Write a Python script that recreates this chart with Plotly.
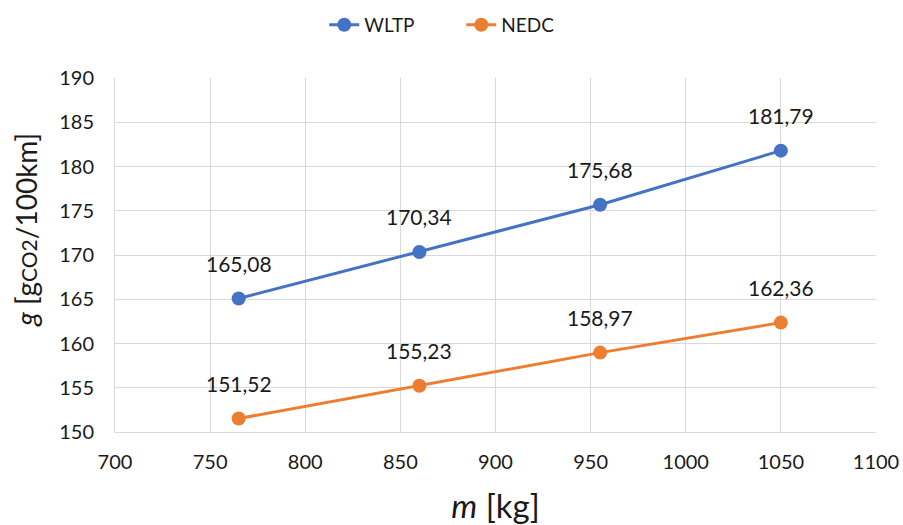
import plotly.graph_objects as go

mass = [765, 860, 955, 1050]
wltp = [165.08, 170.34, 175.68, 181.79]
nedc = [151.52, 155.23, 158.97, 162.36]
x_ticks = [700, 750, 800, 850, 900, 950, 1000, 1050, 1100]
y_ticks = [150, 155, 160, 165, 170, 175, 180, 185, 190]

BLUE = "#4472C4"
ORANGE = "#ED7D31"
FONT = "Lato, 'Open Sans', sans-serif"

def fmt(v):
    return f"{v:.2f}".replace(".", ",")

fig = go.Figure()
fig.add_trace(go.Scatter(x=mass, y=wltp, mode="lines+markers", name="WLTP",
                         line=dict(color=BLUE, width=3), marker=dict(size=14, color=BLUE)))
fig.add_trace(go.Scatter(x=mass, y=nedc, mode="lines+markers", name="NEDC",
                         line=dict(color=ORANGE, width=3), marker=dict(size=14, color=ORANGE)))

for series in (wltp, nedc):
    for xv, yv in zip(mass, series):
        fig.add_annotation(x=xv, y=yv, text=fmt(yv), showarrow=False, yshift=35,
                           font=dict(size=21, color="#1a1a1a", family=FONT))

# y-axis title as a rotated annotation (positioned like the reference)
fig.add_annotation(text="<i>g</i> [g<span style='font-size:21px'>CO2</span>/100km]",
                   xref="paper", yref="paper", x=-0.117, y=0.571,
                   xanchor="center", yanchor="middle", textangle=-90, showarrow=False,
                   font=dict(size=28, color="#1a1a1a", family=FONT))

fig.update_layout(
    width=903, height=525,
    margin=dict(l=115, r=27, t=78, b=93, autoexpand=False),
    plot_bgcolor="white", paper_bgcolor="white",
    font=dict(family=FONT, color="#1a1a1a"),
    showlegend=True,
    legend=dict(orientation="h", x=0.455, xanchor="center", y=1.15, yanchor="middle",
                font=dict(size=19), entrywidth=92, entrywidthmode="pixels"),
    xaxis=dict(range=[700, 1100], tickvals=x_ticks, showgrid=True, gridcolor="#d9d9d9",
               gridwidth=1, showline=True, linecolor="#d9d9d9", linewidth=1,
               tickfont=dict(size=20), ticks="", zeroline=False, automargin=False,
               ticklabelstandoff=12, ticklabeloverflow="allow",
               title=dict(text="<i>m</i> [kg]", font=dict(size=33), standoff=26)),
    yaxis=dict(range=[150, 190], tickvals=y_ticks, showgrid=True, gridcolor="#d9d9d9",
               gridwidth=1, showline=True, linecolor="#d9d9d9", linewidth=1,
               tickfont=dict(size=20), ticks="", zeroline=False, automargin=False,
               ticklabelstandoff=16),
)

fig.write_html("out.html",
               config={"displayModeBar": False},
               post_script="document.body.style.margin='0';document.body.style.overflow='hidden';")
